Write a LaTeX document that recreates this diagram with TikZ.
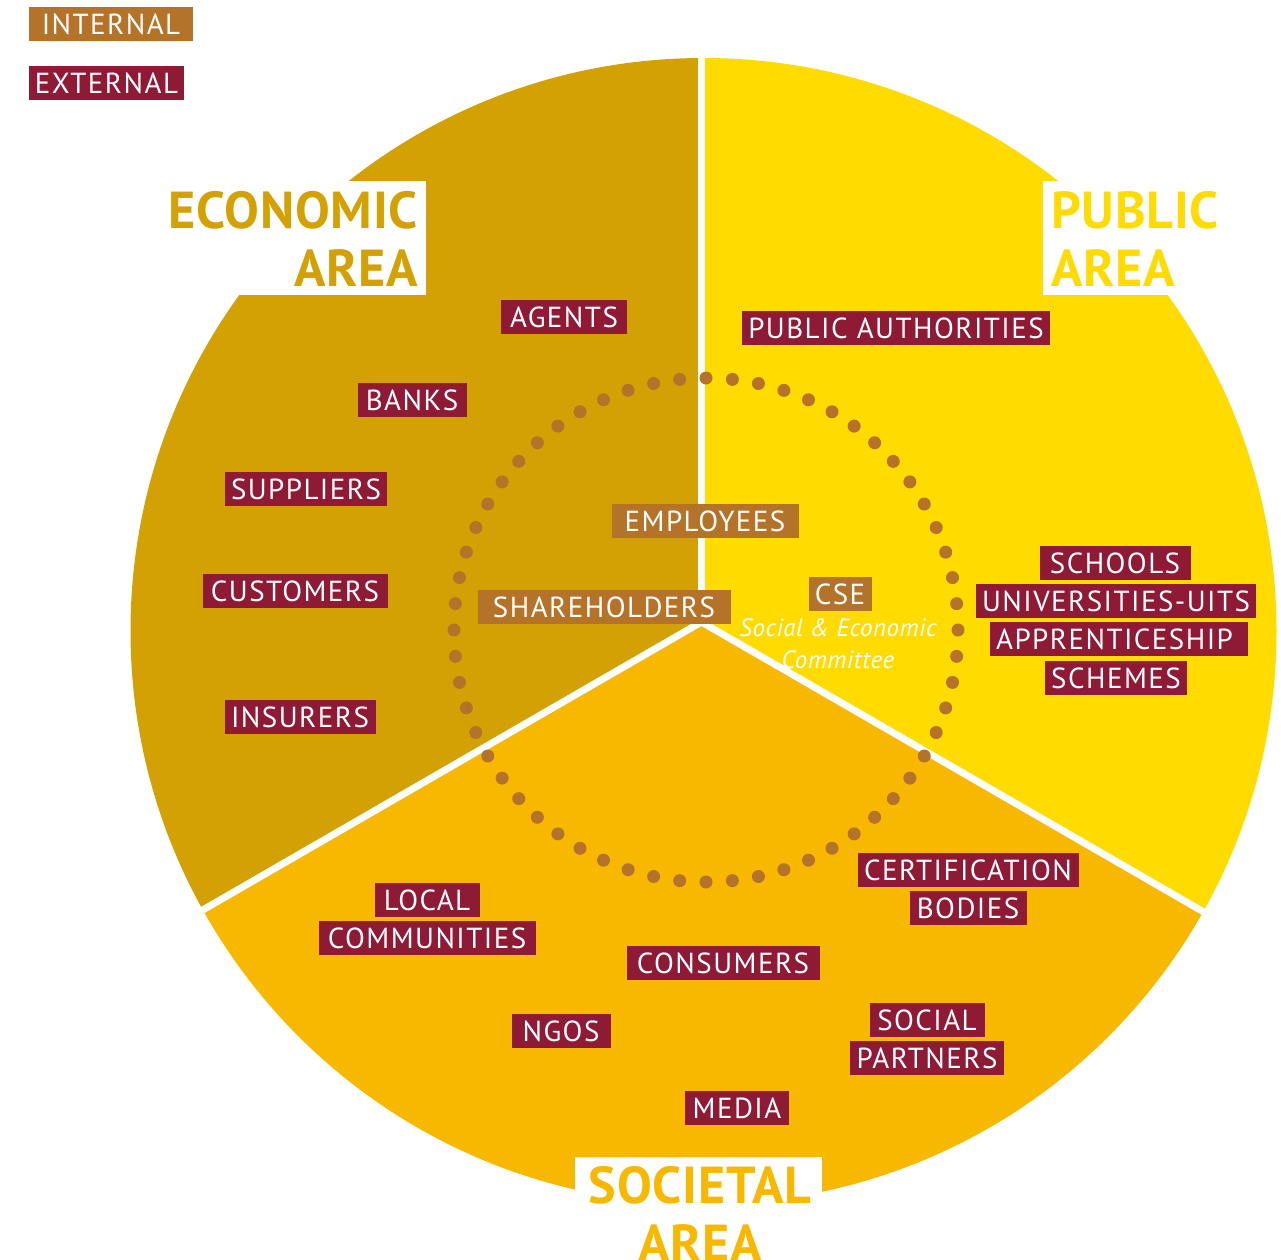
\documentclass[tikz,border=0pt]{standalone}
\usepackage{fontspec}
\setmainfont{PT Sans}
\usetikzlibrary{calc}

\definecolor{eco}{HTML}{D4A104}
\definecolor{pub}{HTML}{FFDB00}
\definecolor{soc}{HTML}{F8B800}
\definecolor{intl}{HTML}{B5732A}
\definecolor{extl}{HTML}{8F1A36}

\begin{document}
\begin{tikzpicture}[x=1pt,y=-1pt,
  tag/.style={text=white, inner xsep=6pt, inner ysep=7pt, text height=20pt,
              text depth=0pt, font=\fontsize{29}{31}\selectfont\addfontfeature{LetterSpace=5}},
  ext/.style={tag, fill=extl, minimum width=#1},
  int/.style={tag, fill=intl, minimum width=#1},
  areatitle/.style={inner sep=0pt, font=\fontsize{52}{60}\selectfont\bfseries\addfontfeature{LetterSpace=1.5}},
  gap/.style={white, line width=7pt, line cap=round}]

\useasboundingbox (0,0) rectangle (1281,1259);

% the three areas of the disc, clipped to the outer circle
\coordinate (O) at (703.5,631);
\coordinate (P) at (701.5,622);
\begin{scope}
  \clip (O) circle (573);
  \fill[eco] (P) -- ($(P)+(150:1000)$) -- ($(P)+(210:1000)$) -- ($(P)+(270:1000)$) -- cycle;
  \fill[pub] (P) -- ($(P)+(270:1000)$) -- ($(P)+(330:1000)$) -- ($(P)+(30:1000)$) -- cycle;
  \fill[soc] (P) -- ($(P)+(30:1000)$) -- ($(P)+(90:1000)$) -- ($(P)+(150:1000)$) -- cycle;
\end{scope}

% white gaps between the areas
\draw[gap] (P) -- ($(P)+(270:590)$);
\draw[gap] (P) -- ($(P)+(30:590)$);
\draw[gap] (P) -- ($(P)+(150:590)$);

% white panels carrying the area titles
\fill[white] (150,181) rectangle (426,295);
\fill[white] (1043,181) rectangle (1300,295);
\fill[white] (575,1157) rectangle (822,1290);

\node[areatitle, text=eco, anchor=base east] (ecoA) at (418,228) {ECONOMIC};
\node[areatitle, text=eco, anchor=base east] (ecoB) at (418,286) {AREA};
\node[areatitle, text=pub, anchor=base west] (pubA) at (1051,228) {PUBLIC};
\node[areatitle, text=pub, anchor=base west] (pubB) at (1051,286) {AREA};
\node[areatitle, text=soc, anchor=base] (socA) at (700,1203) {SOCIETAL};
\node[areatitle, text=soc, anchor=base] (socB) at (700,1261) {AREA};

% dotted ring of internal stakeholders
\coordinate (D) at (706,630);
\foreach \i in {0,...,59}
  \fill[intl] ($(D)+(270+6*\i:252)$) circle (6.5);

% legend
\node[int=164pt] (legint) at (111,24) {INTERNAL};
\node[ext=155pt] (legext) at (106.5,83) {EXTERNAL};

% economic area
\node[ext=126pt] (agents) at (564,317) {AGENTS};
\node[ext=109pt] (banks) at (412,400) {BANKS};
\node[ext=157pt] (suppliers) at (306,489) {SUPPLIERS};
\node[ext=185pt] (customers) at (295,591) {CUSTOMERS};
\node[ext=151pt] (insurers) at (300,717) {INSURERS};

% public area
\node[ext=301pt] (authorities) at (896,328) {PUBLIC AUTHORITIES};
\node[ext=151pt] (schools) at (1115,563) {SCHOOLS};
\node[ext=273pt] (universities) at (1116,601) {UNIVERSITIES-UITS};
\node[ext=251pt] (apprentice) at (1119,639) {APPRENTICESHIP\hspace*{9pt}};
\node[ext=138pt] (schemes) at (1116,678) {SCHEMES};

% internal stakeholders
\node[int=187pt] (employees) at (705,521) {EMPLOYEES};
\node[int=253pt] (shareholders) at (604,607) {SHAREHOLDERS};
\node[int=63pt] (cse) at (840,594) {CSE};
\node[text=white, align=center, inner sep=0pt,
      font=\fontsize{25}{32}\selectfont\itshape\addfontfeature{LetterSpace=2}] (cseText) at (838,644)
      {Social \& Economic\\Committee};

% societal area
\node[ext=221pt] (certification) at (968,870) {CERTIFICATION};
\node[ext=117pt] (bodies) at (968,908) {BODIES};
\node[ext=105pt] (local) at (427,900) {LOCAL};
\node[ext=217pt] (communities) at (427,938) {COMMUNITIES};
\node[ext=193pt] (consumers) at (723,963) {CONSUMERS};
\node[ext=99pt] (ngos) at (561,1031) {NGOS};
\node[ext=115pt] (social) at (927,1020) {SOCIAL};
\node[ext=154pt] (partners) at (927,1058) {PARTNERS};
\node[ext=104pt] (media) at (737,1108) {MEDIA};

\end{tikzpicture}
\end{document}
